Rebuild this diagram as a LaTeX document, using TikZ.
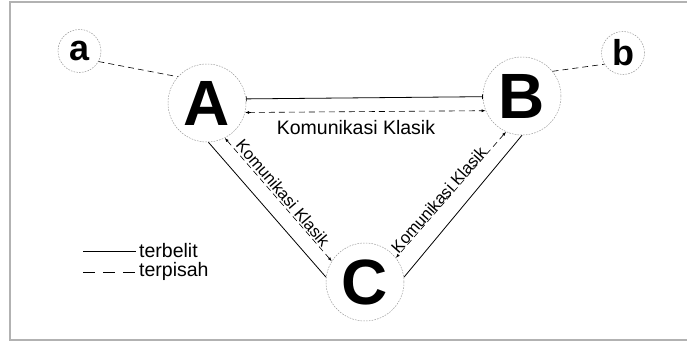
\documentclass[tikz,border=0pt]{standalone}
\usepackage{fontspec}
\setmainfont{Liberation Sans}
\usetikzlibrary{arrows.meta}
\begin{document}
\begin{tikzpicture}[x=1pt,y=-1pt,
  party/.style={circle,draw=gray!80,line width=0.5pt,dash pattern=on 1.6pt off 1.2pt,
    inner sep=0pt,minimum size=78pt,font=\fontsize{64}{64}\selectfont\bfseries},
  small/.style={circle,draw=gray!80,line width=0.5pt,dash pattern=on 1.6pt off 1.2pt,
    inner sep=0pt,minimum size=43pt,font=\fontsize{36}{36}\selectfont\bfseries},
  entangled/.style={line width=0.8pt,black},
  separate/.style={line width=0.6pt,black,dash pattern=on 6pt off 4pt},
  classical/.style={separate,{Latex[length=4pt,width=3pt]}-{Latex[length=4pt,width=3pt]}},
  lbl/.style={font=\fontsize{19.5}{19.5}\selectfont,inner sep=0pt},
  dlbl/.style={font=\fontsize{16.5}{16.5}\selectfont,inner sep=0pt},
  frame/.style={draw=gray!60,line width=1.2pt}]
\useasboundingbox (0,0) rectangle (687,342);
\draw[frame] (687,2) -- (10,2) -- (10,340) -- (687,340);
% nodes
\node[party] (A) at (207,103) {A};
\node[party] (B) at (522,96) {B};
\node[party] (C) at (365,282) {C};
\node[small] (a) at (79.5,51) {a};
\node[small] (b) at (623,53) {b};
% outer links
\draw[separate] (a.-29) -- (A.138);
\draw[separate] (B.39) -- (b.211);
% A-B
\draw[entangled,{Bar[width=5pt,line width=0.6pt]}-{Bar[width=5pt,line width=0.6pt]}] (A.6) -- (B.181);
\draw[classical] (A.-14) -- (B.202);
\node[lbl] (lab1) at (356,127.5) {Komunikasi Klasik};
% A-C
\draw[entangled] (A.-88) -- (C.173);
\draw[classical] (A.-63) -- (C.148);
\node[dlbl,rotate=-49.5] (lab2) at (283,193) {Komunikasi Klasik};
% B-C
\draw[entangled] (B.-90) -- (C.7);
\draw[classical] (B.246) -- (C.38);
\node[dlbl,rotate=48.5] (lab3) at (438.5,200) {Komunikasi Klasik};
% legend
\node[lbl,anchor=west] (l1) at (139,251) {terbelit};
\node[lbl,anchor=west] (l2) at (139,271) {terpisah};
\draw[line width=1pt] ([xshift=-56pt]l1.west) -- ([xshift=-3pt]l1.west);
\draw[line width=1pt,dash pattern=on 12pt off 8pt] ([xshift=-56pt,yshift=-1pt]l2.west) -- ([xshift=-3pt,yshift=-1pt]l2.west);
\end{tikzpicture}
\end{document}
